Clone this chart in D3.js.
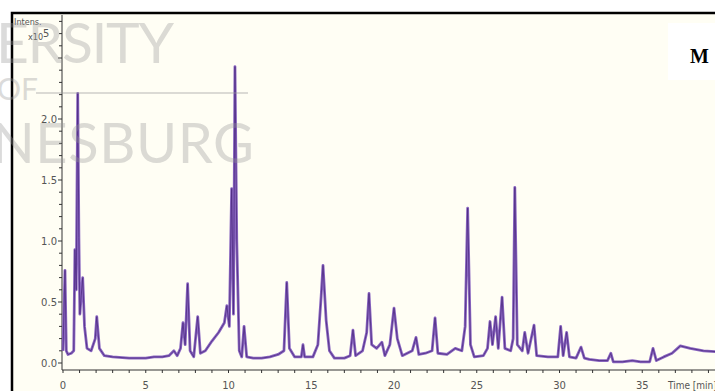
<!DOCTYPE html>
<html>
<head>
<meta charset="utf-8">
<script src="https://cdn.jsdelivr.net/npm/d3@7"></script>
<style>
  body { margin: 0; background: #fff; }
  svg { display: block; }
</style>
</head>
<body>
<div id="chart"></div>
<script>
// retention times (min) and intensities (x10^5)
var times = [0.0, 0.12, 0.2, 0.3, 0.5, 0.65, 0.72, 0.8, 0.89, 0.96, 1.02, 1.1, 1.19, 1.3, 1.45, 1.7, 1.95, 2.04, 2.2, 2.5,
  3.0, 4.0, 5.0, 5.5, 6.0, 6.4, 6.7, 6.9, 7.1, 7.25, 7.38, 7.53, 7.68, 7.9, 8.14, 8.3, 8.6, 9.0, 9.4, 9.75,
  9.9, 10.05, 10.19, 10.3, 10.39, 10.5, 10.65, 10.8, 10.94, 11.1, 11.5, 12.0, 12.5, 13.0, 13.35, 13.52, 13.68, 14.0, 14.4, 14.5,
  14.6, 15.1, 15.4, 15.6, 15.71, 15.9, 16.1, 16.4, 17.0, 17.35, 17.52, 17.68, 18.1, 18.35, 18.49, 18.65, 18.95, 19.27, 19.45, 19.75,
  20.0, 20.2, 20.5, 21.1, 21.33, 21.5, 21.9, 22.3, 22.48, 22.65, 23.2, 23.7, 24.1, 24.3, 24.45, 24.62, 24.85, 25.4, 25.65, 25.8,
  25.95, 26.14, 26.3, 26.53, 26.7, 27.05, 27.2, 27.3, 27.45, 27.75, 27.9, 28.1, 28.46, 28.62, 29.3, 29.9, 30.07, 30.22, 30.43, 30.6,
  31.0, 31.3, 31.5, 31.8, 32.4, 32.9, 33.1, 33.25, 33.8, 34.4, 34.9, 35.45, 35.65, 35.85, 36.3, 36.8, 37.3, 37.9, 38.7, 39.8];
var intens = [0.10, 0.76, 0.10, 0.07, 0.08, 0.10, 0.93, 0.60, 2.21, 1.03, 0.40, 0.55, 0.70, 0.30, 0.12, 0.10, 0.20, 0.38, 0.12, 0.06,
  0.05, 0.04, 0.04, 0.05, 0.05, 0.06, 0.10, 0.06, 0.12, 0.33, 0.15, 0.65, 0.10, 0.05, 0.38, 0.08, 0.10, 0.18, 0.25, 0.33,
  0.47, 0.30, 1.43, 0.40, 2.43, 1.00, 0.10, 0.05, 0.30, 0.05, 0.04, 0.04, 0.05, 0.07, 0.10, 0.66, 0.12, 0.05, 0.05, 0.15,
  0.05, 0.05, 0.15, 0.55, 0.80, 0.35, 0.10, 0.04, 0.04, 0.06, 0.27, 0.06, 0.10, 0.25, 0.57, 0.15, 0.12, 0.17, 0.06, 0.15,
  0.45, 0.20, 0.06, 0.10, 0.21, 0.07, 0.08, 0.10, 0.37, 0.08, 0.07, 0.12, 0.10, 0.30, 1.27, 0.15, 0.05, 0.06, 0.12, 0.34,
  0.15, 0.38, 0.12, 0.54, 0.12, 0.10, 0.20, 1.44, 0.15, 0.10, 0.25, 0.08, 0.31, 0.06, 0.05, 0.05, 0.30, 0.06, 0.25, 0.05,
  0.04, 0.13, 0.04, 0.03, 0.02, 0.02, 0.08, 0.01, 0.01, 0.02, 0.01, 0.01, 0.12, 0.02, 0.05, 0.08, 0.14, 0.12, 0.10, 0.09];

var yTicks = [0.0, 0.5, 1.0, 1.5, 2.0];
var xTicks = [0, 5, 10, 15, 20, 25, 30, 35];

var w = 715, h = 391;

var svg = d3.select('#chart').append('svg')
  .attr('width', w)
  .attr('height', h);

// frame
svg.append('rect')
  .attr('x', 12).attr('y', 13)
  .attr('width', w + 20).attr('height', h + 20)
  .attr('fill', '#fffef4')
  .attr('stroke', '#000')
  .attr('stroke-width', 2.5);

var x = d3.scaleLinear().domain([0, 39.8]).range([63, 63 + 39.8 * 16.55]);
var y = d3.scaleLinear().domain([0, 2.8]).range([363, 363 - 2.8 * 122]);

// y axis
var yAxis = svg.append('g').attr('transform', 'translate(62,0)');
yAxis.append('line')
  .attr('y1', 15).attr('y2', 370)
  .attr('stroke', '#333');
yAxis.selectAll('.minor')
  .data(d3.range(0, 29).map(function(d) { return d / 10; }))
  .enter().append('line')
  .attr('x1', function(d, i) { return i % 5 == 0 ? -4 : -3; }).attr('x2', 0)
  .attr('y1', function(d) { return y(d); })
  .attr('y2', function(d) { return y(d); })
  .attr('stroke', '#333');
yAxis.selectAll('.lab')
  .data(yTicks)
  .enter().append('text')
  .attr('x', -5)
  .attr('y', function(d) { return y(d); })
  .attr('dy', '0.35em')
  .attr('text-anchor', 'end')
  .attr('font-family', 'DejaVu Sans')
  .attr('font-size', 10)
  .attr('fill', '#555')
  .text(function(d) { return d3.format('.1f')(d); });

svg.append('text')
  .attr('x', 14).attr('y', 25)
  .attr('font-family', 'DejaVu Sans Condensed, DejaVu Sans')
  .attr('font-size', 9)
  .attr('fill', '#555')
  .text('Intens.');
var xl = svg.append('text')
  .attr('x', 28).attr('y', 40)
  .attr('font-family', 'DejaVu Sans Condensed, DejaVu Sans')
  .attr('font-size', 9)
  .attr('fill', '#555');
xl.append('tspan').text('x10');
xl.append('tspan').attr('dy', -3).attr('font-size', 11).text('5');

// x axis
var xAxis = svg.append('g').attr('transform', 'translate(0,370)');
xAxis.append('line')
  .attr('x1', 62).attr('x2', w)
  .attr('stroke', '#333');
xAxis.selectAll('.minor')
  .data(d3.range(0, 40))
  .enter().append('line')
  .attr('x1', function(d) { return x(d); })
  .attr('x2', function(d) { return x(d); })
  .attr('y1', 0).attr('y2', 3)
  .attr('stroke', '#333');
xAxis.selectAll('.lab')
  .data(xTicks)
  .enter().append('text')
  .attr('x', function(d) { return x(d); })
  .attr('y', 15)
  .attr('dy', '0.35em')
  .attr('text-anchor', 'middle')
  .attr('font-family', 'DejaVu Sans')
  .attr('font-size', 10)
  .attr('fill', '#555')
  .text(function(d) { return d; });
xAxis.append('text')
  .attr('x', 668).attr('y', 15)
  .attr('dy', '0.35em')
  .attr('font-family', 'DejaVu Sans Condensed, DejaVu Sans')
  .attr('font-size', 10)
  .attr('fill', '#555')
  .text('Time [min]');

// trace
var pts = times.map(function(t, i) { return [t, intens[i]]; });
var line = d3.line()
  .x(function(d) { return x(d[0]); })
  .y(function(d) { return y(d[1]); });

svg.append('path')
  .datum(pts)
  .attr('d', line)
  .attr('fill', 'none')
  .attr('stroke', '#8a66c0')
  .attr('stroke-width', 2.8)
  .attr('stroke-linejoin', 'round');
svg.append('path')
  .datum(pts)
  .attr('d', line)
  .attr('fill', 'none')
  .attr('stroke', '#4e2a82')
  .attr('stroke-width', 1)
  .attr('stroke-opacity', 0.8)
  .attr('stroke-linejoin', 'round');

// panel label
svg.append('rect')
  .attr('x', 668).attr('y', 23)
  .attr('width', 50).attr('height', 57)
  .attr('fill', '#fff');
svg.append('text')
  .attr('x', 690).attr('y', 63)
  .attr('font-family', 'Liberation Serif')
  .attr('font-weight', 'bold')
  .attr('font-size', 20)
  .attr('fill', '#000')
  .text('M');

// watermark
var wm = svg.append('g').attr('fill', '#999').attr('opacity', 0.35)
  .attr('font-family', 'Lato, Open Sans').attr('font-weight', 400);
wm.append('text')
  .attr('x', -4).attr('y', 63)
  .attr('font-size', 57)
  .attr('textLength', 178)
  .attr('lengthAdjust', 'spacing')
  .text('ERSITY');
wm.append('text')
  .attr('x', -3).attr('y', 100)
  .attr('font-size', 30)
  .text('OF');
wm.append('line')
  .attr('x1', 36).attr('x2', 248)
  .attr('y1', 93).attr('y2', 93)
  .attr('stroke', '#999').attr('stroke-width', 2);
wm.append('text')
  .attr('x', -8).attr('y', 163)
  .attr('font-size', 56)
  .attr('textLength', 262)
  .attr('lengthAdjust', 'spacing')
  .text('NESBURG');
</script>
</body>
</html>
